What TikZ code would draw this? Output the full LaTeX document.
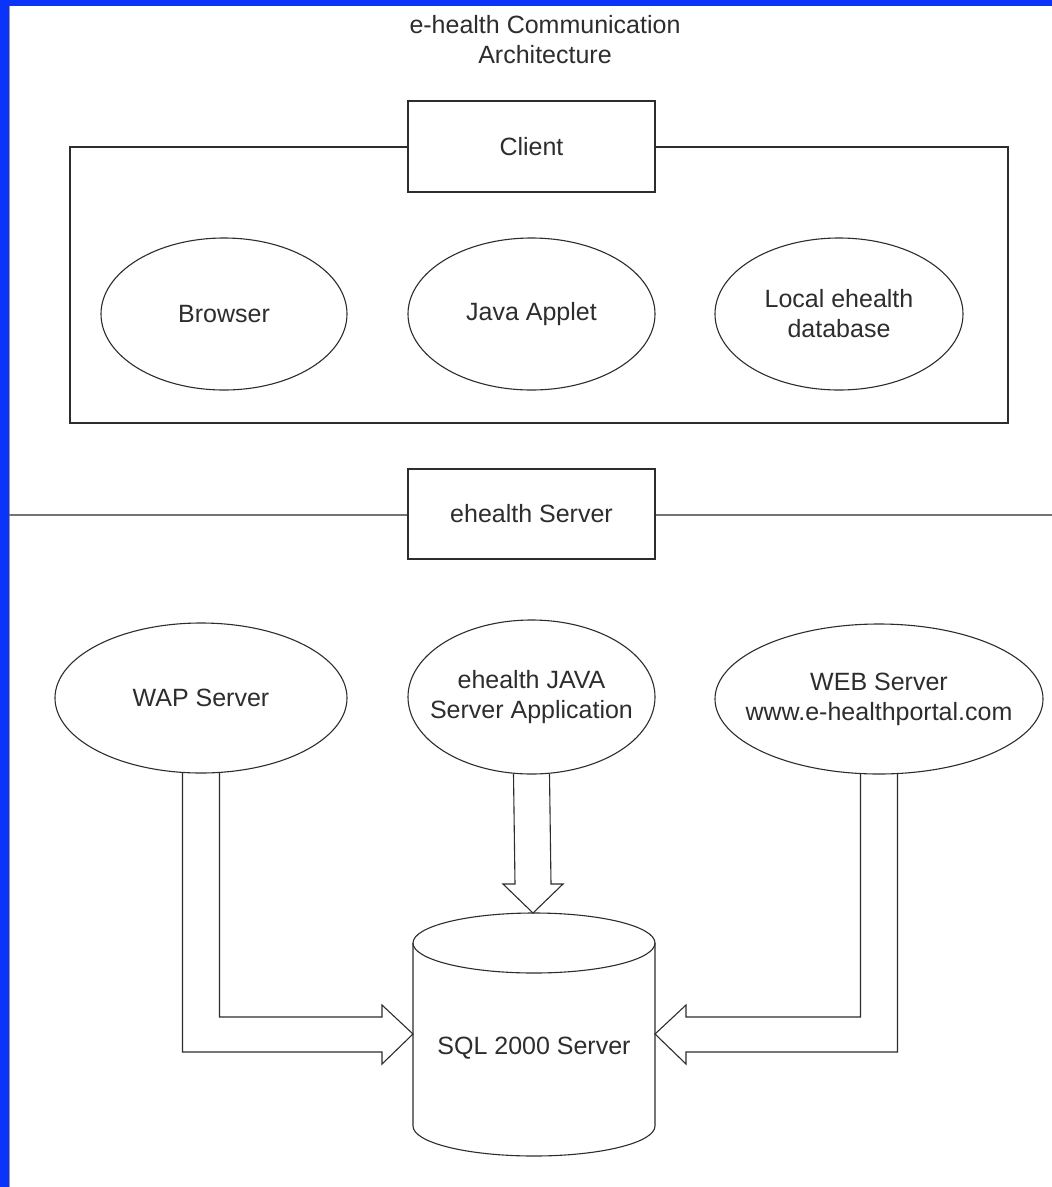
\documentclass[tikz,border=0pt]{standalone}
\usepackage{fontspec}
\setmainfont{Liberation Sans}
\usetikzlibrary{shapes.geometric,calc}
\definecolor{slideblue}{RGB}{10,52,250}
\definecolor{ink}{RGB}{45,45,45}

\tikzset{
  box/.style={draw=ink, line width=1.3pt, fill=white, minimum width=247pt, minimum height=91pt, outer sep=0pt},
  blob/.style={draw=ink, line width=1.1pt, ellipse, fill=white, inner sep=0pt, outer sep=0pt, align=center},
  fat/.style={draw=ink, line width=1.1pt, line join=miter},
}

\begin{document}
\begin{tikzpicture}[x=1pt, y=-1pt, font=\fontsize{25}{30}\selectfont, text=ink]
  \useasboundingbox (0,0) rectangle (1052,1187);
  \fill[slideblue] (0,0) rectangle (1052,1187);
  \fill[white] (9,6) rectangle (1052,1187);
  \draw[black!40, line width=0.6pt] (9.5,6) -- (9.5,1187);

  \node (title) [align=center] at (545,40) {e-health Communication\\Architecture};

  % client side
  \draw[ink, line width=1.3pt] (70,147) rectangle (1008,423);
  \node (client) [box] at (531.5,146.5) {Client};
  \node (browser) [blob, minimum width=246pt, minimum height=152pt] at (224,314) {Browser};
  \node (applet) [blob, minimum width=247pt, minimum height=152pt] at (531.5,314) {Java Applet};
  \node (localdb) [blob, minimum width=248pt, minimum height=152pt] at (839,314) {Local ehealth\\database};

  % server side
  \draw[black!55, line width=1.6pt] (9,515) -- (1052,515);
  \node (server) [box, minimum height=90pt] at (531.5,514) {ehealth Server};
  \node (wap) [blob, minimum width=292pt, minimum height=150pt] at (201,698) {WAP Server};
  \node (java) [blob, minimum width=247pt, minimum height=154pt,
    label={[align=center]center:ehealth JAVA\\Server Application}] at (531.5,697) {};
  \node (web) [blob, minimum width=328pt, minimum height=150pt,
    label={[align=center]center:WEB Server\\www.e-healthportal.com}] at (879,699) {};

  % database
  \draw[ink, line width=1.1pt] (413,943) -- (413,1126)
    arc[start angle=180, end angle=0, x radius=121, y radius=30] -- (655,943);
  \draw[ink, line width=1.1pt] (534,943) ellipse [x radius=121, y radius=30];
  \node (sql) at (534,1048) {SQL 2000 Server};
  \coordinate (dbW) at (413,1034);
  \coordinate (dbE) at (655,1034);
  \coordinate (dbN) at (533,913);

  % block arrows
  \draw[fat] ($(wap.south)+(-18.5,0)$) |- ($(dbW)+(-31,18)$) -- ++(0,12) -- (dbW)
    -- ++(-31,-29) -- ++(0,12) -| ($(wap.south)+(18.5,0)$);
  \draw[fat] ($(java.south)+(-18,0)$) -- ($(dbN)+(-18,-29)$) -- ++(-12,0) -- (dbN)
    -- ++(30,-29) -- ++(-12,0) -- ($(java.south)+(18,0)$);
  \draw[fat] ($(web.south)+(18.5,0)$) |- ($(dbE)+(31,18)$) -- ++(0,12) -- (dbE)
    -- ++(31,-29) -- ++(0,12) -| ($(web.south)+(-18.5,0)$);
\end{tikzpicture}
\end{document}
